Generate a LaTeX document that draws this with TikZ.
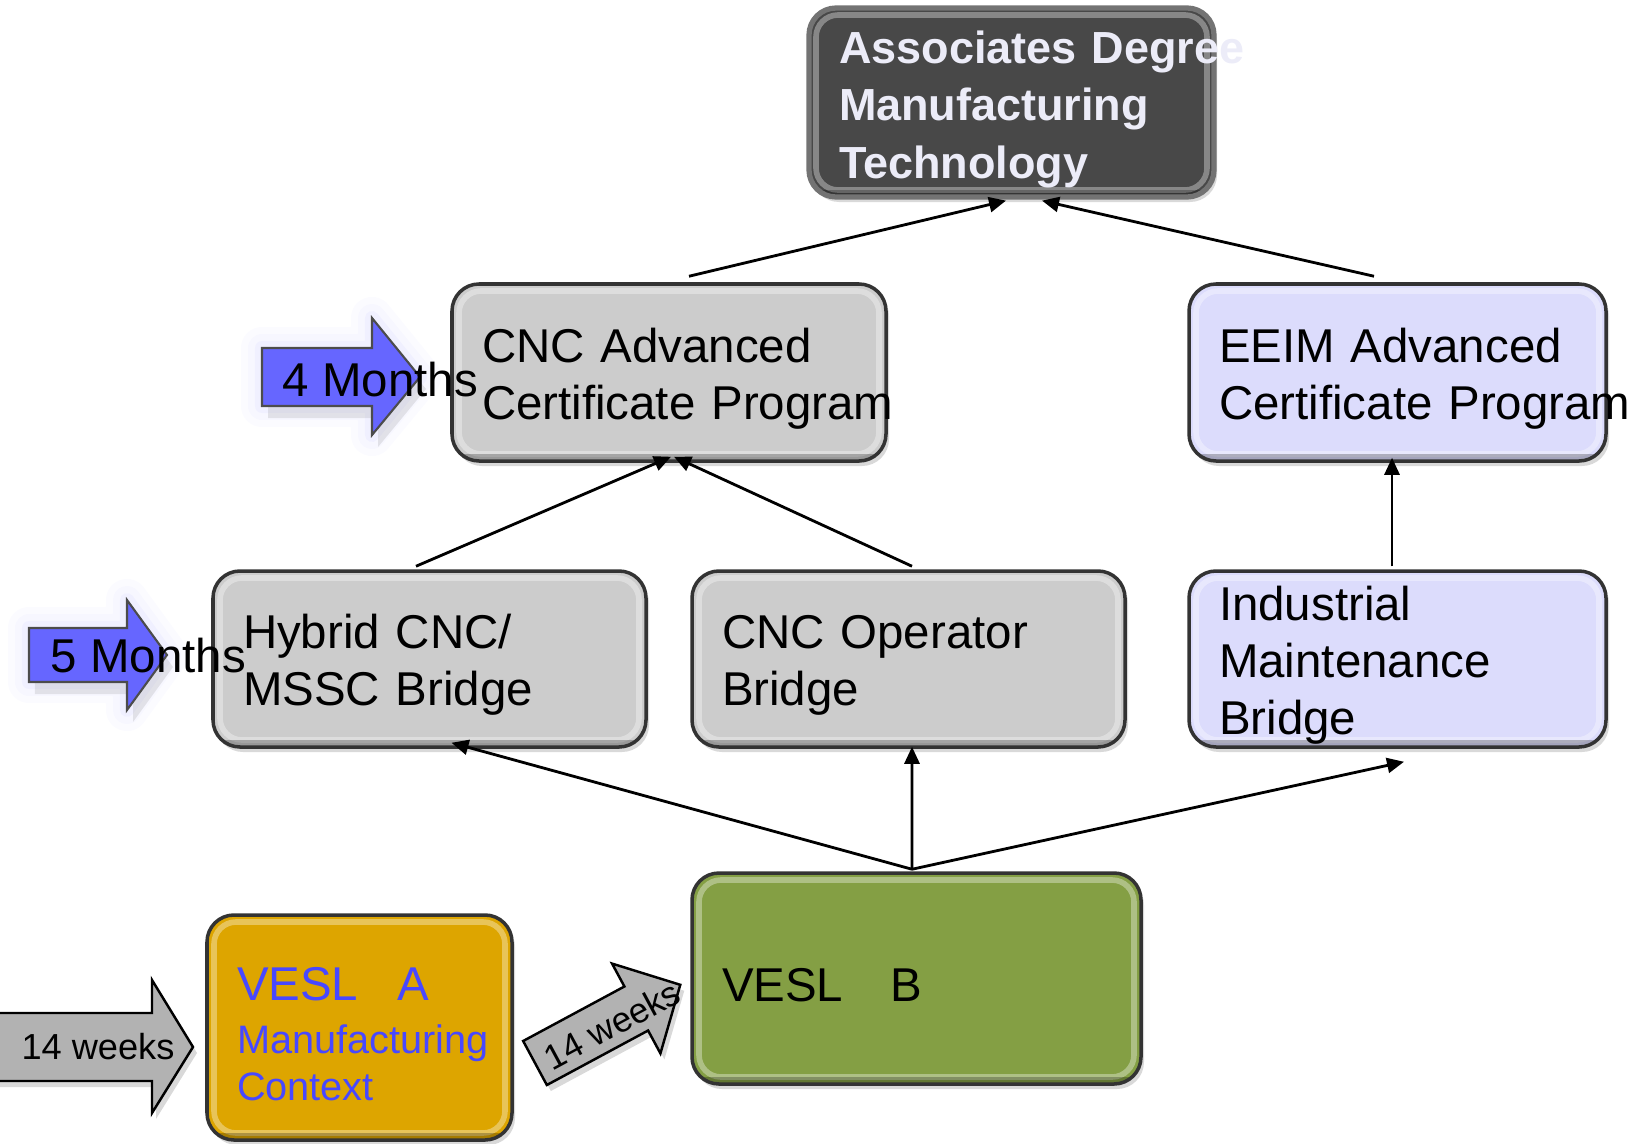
\documentclass[tikz,border=0pt]{standalone}
\usepackage{fontspec}
\setmainfont{Liberation Sans}
\usetikzlibrary{positioning,arrows.meta,shadows}
\definecolor{degreegray}{RGB}{72,72,72}
\definecolor{degreetext}{RGB}{236,236,248}
\definecolor{cncgray}{RGB}{204,204,204}
\definecolor{eeimlav}{RGB}{220,220,252}
\definecolor{veslgreen}{RGB}{132,159,68}
\definecolor{veslgold}{RGB}{221,165,0}
\definecolor{veslblue}{RGB}{72,72,255}
\definecolor{monthblue}{RGB}{102,102,255}
\definecolor{weekgray}{RGB}{178,178,178}
\tikzset{>={Triangle[width=1.5mm,length=1.7mm]}}
\tikzset{
	bevel/.style={path picture={
			\draw[white,opacity=.35,line width=1.6pt,rounded corners=0.22cm]
			([shift={(0.07,-0.07)}]path picture bounding box.north west) rectangle
			([shift={(-0.07,0.07)}]path picture bounding box.south east);
			\draw[black,opacity=.25,line width=4pt]
			(path picture bounding box.south west) -- (path picture bounding box.south east);}},
	course/.style={rounded corners=0.27cm, draw=black!80, line width=1pt, bevel,
		align=left, inner xsep=0.3cm, inner ysep=0pt,
		font=\fontsize{13.5}{16.2}\selectfont,
		execute at begin node={\rule{0pt}{13.2pt}},
		drop shadow={opacity=0.3,shadow xshift=0.03,shadow yshift=-0.05}},
	link/.style={->, line width=0.8pt},
	months/.style={fill=monthblue, draw=black!70, line width=0.6pt, line join=miter,
		preaction={draw=monthblue!40, line width=12pt, opacity=.06, line join=round},
		preaction={draw=monthblue!40, line width=8pt, opacity=.08, line join=round},
		preaction={draw=monthblue!40, line width=4pt, opacity=.12, line join=round},
		drop shadow={opacity=0.18,shadow xshift=0.06,shadow yshift=-0.12}},
	weeks/.style={fill=weekgray, draw=black, line width=0.7pt,
		drop shadow={opacity=0.3,shadow xshift=0.04,shadow yshift=-0.06}},
	weektext/.style={font=\fontsize{10.3}{12}\selectfont, inner sep=0pt}
}

\begin{document}
\begin{tikzpicture}
	\useasboundingbox (0,0) rectangle (16.34,-11.43);
	
	% boxes
	\node[course, fill=degreegray, draw=black!55, line width=1.5pt, text width=3.45cm, minimum height=1.89cm,
	font=\fontsize{12.8}{16.4}\selectfont\bfseries, text=degreetext] (assoc) at (10.115,-1.025)
	{\mbox{Associates Degree}\\Manufacturing\\Technology};
	\node[course, fill=cncgray, text width=3.74cm, minimum height=1.77cm] (cncadv) at (6.69,-3.725)
	{CNC Advanced\\\mbox{Certificate Program}};
	\node[course, fill=eeimlav, text width=3.57cm, minimum height=1.77cm] (eeim) at (13.975,-3.725)
	{EEIM Advanced\\\mbox{Certificate Program}};
	\node[course, fill=cncgray, text width=3.73cm, minimum height=1.76cm] (hybrid) at (4.295,-6.59)
	{Hybrid CNC/\\MSSC Bridge};
	\node[course, fill=cncgray, text width=3.73cm, minimum height=1.76cm] (cncop) at (9.085,-6.59)
	{CNC Operator\\Bridge};
	\node[course, fill=eeimlav, text width=3.57cm, minimum height=1.76cm] (indmaint) at (13.975,-6.59)
	{Industrial\\Maintenance\\Bridge};
	\node[course, fill=veslgreen, text width=3.89cm, minimum height=2.11cm] (veslb) at (9.165,-9.785)
	{VESL\ \ \ B};
	\node[course, fill=veslgold, text width=2.45cm, minimum height=2.25cm, text=veslblue,
	font=\fontsize{11.3}{13.4}\selectfont] (vesla) at (3.595,-10.275)
	{{\fontsize{13.5}{16.2}\selectfont VESL\ \ \ A}\\[1.5pt]Manufacturing\\Context};
	
	% connectors
	\coordinate (fork) at ([shift={(-0.045,0.02)}]veslb.north);
	\draw[link] ([shift={(0.20,0.06)}]cncadv.north) -- ([shift={(-0.055,-0.01)}]assoc.south);
	\draw[link] ([shift={(-0.235,0.06)}]eeim.north) -- ([shift={(0.305,-0.01)}]assoc.south);
	\draw[link] ([shift={(-0.135,0.03)}]hybrid.north) -- ([shift={(0.02,0.06)}]cncadv.south);
	\draw[link] ([shift={(0.035,0.03)}]cncop.north) -- ([shift={(0.05,0.06)}]cncadv.south);
	\draw[link] ([shift={(-0.055,0.03)}]indmaint.north) -- ([shift={(-0.055,0.05)}]eeim.south);
	\draw[link] (fork) -- ([shift={(0.22,0.06)}]hybrid.south);
	\draw[link] (fork) -- ([shift={(0.035,0.02)}]cncop.south);
	\draw[link] (fork) -- ([shift={(0.065,-0.13)}]indmaint.south);
	
	% duration arrows
	\draw[months] (2.62,-3.48) -- (3.72,-3.48) -- (3.72,-3.18) -- (4.20,-3.77)
	-- (3.72,-4.35) -- (3.72,-4.06) -- (2.62,-4.06) -- cycle;
	\node[anchor=base west, inner sep=0pt, font=\fontsize{13.5}{16.2}\selectfont] (m4) at (2.82,-3.96) {4 Months};
	\draw[months] (0.29,-6.28) -- (1.27,-6.28) -- (1.27,-6.00) -- (1.67,-6.55)
	-- (1.27,-7.10) -- (1.27,-6.82) -- (0.29,-6.82) -- cycle;
	\node[anchor=base west, inner sep=0pt, font=\fontsize{13.5}{16.2}\selectfont] (m5) at (0.50,-6.72) {5 Months};
	
	\draw[weeks] (-0.2,-10.13) -- (1.52,-10.13) -- (1.52,-9.80) -- (1.93,-10.47)
	-- (1.52,-11.13) -- (1.52,-10.81) -- (-0.2,-10.81) -- cycle;
	\node[weektext] (w1) at (0.98,-10.47) {14 weeks};
	\begin{scope}[shift={(5.35,-10.63)}, rotate=28.3]
		\draw[weeks] (0,-0.25) -- (1.15,-0.25) -- (1.15,-0.51) -- (1.65,0)
		-- (1.15,0.51) -- (1.15,0.25) -- (0,0.25) -- cycle;
		\node[weektext, rotate=28.3, font=\fontsize{10}{12}\selectfont] (w2) at (0.86,-0.03) {14 weeks};
	\end{scope}
\end{tikzpicture}
\end{document}
